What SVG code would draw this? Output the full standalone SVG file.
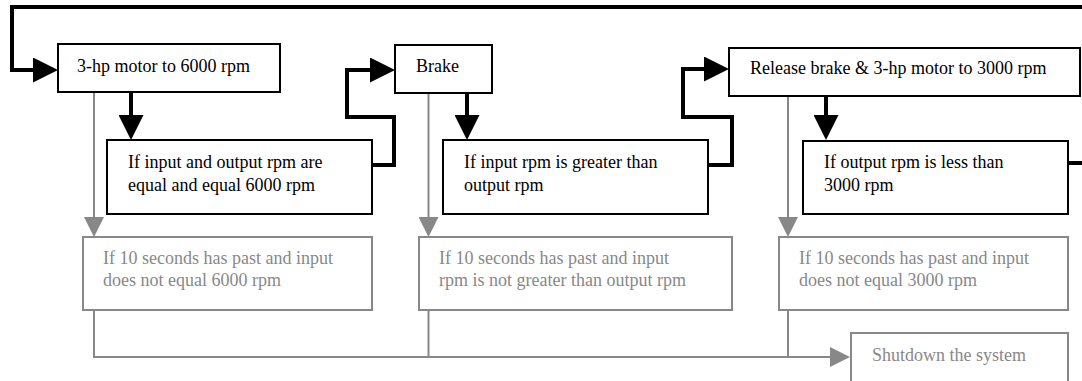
<svg xmlns="http://www.w3.org/2000/svg" width="1082" height="381" viewBox="0 0 1082 381">
  <style>
    .box { fill: #fff; stroke: #000; stroke-width: 2; }
    .gbox { fill: #fff; stroke: #888; stroke-width: 2; }
    .t { font-family: "Liberation Serif", "Times New Roman", serif; font-size: 18px; fill: #000; }
    .gt { font-family: "Liberation Serif", "Times New Roman", serif; font-size: 18px; fill: #888; }
    .bl { fill: none; stroke: #000; stroke-width: 4; marker-end: url(#ab); }
    .bln { fill: none; stroke: #000; stroke-width: 4; }
    .gl { fill: none; stroke: #888; stroke-width: 2; marker-end: url(#ag); }
    .gln { fill: none; stroke: #888; stroke-width: 2; }
  </style>
  <defs>
    <marker id="ab" markerUnits="userSpaceOnUse" viewBox="0 0 25 25" markerWidth="25" markerHeight="25" refX="0" refY="12.5" orient="auto">
      <path d="M0,0 L25,12.5 L0,25 Z" fill="#000"/>
    </marker>
    <marker id="ag" markerUnits="userSpaceOnUse" viewBox="0 0 20 20" markerWidth="20" markerHeight="20" refX="0" refY="10" orient="auto">
      <path d="M0,0 L20,10 L0,20 Z" fill="#888"/>
    </marker>
  </defs>

  <g id="connectors">
    <path class="bl" d="M1082,7 H12 V70 H33"/>
    <path class="bl" d="M131,92 V115"/>
    <path class="bl" d="M467,93 V115"/>
    <path class="bl" d="M826,96 V115"/>
    <path class="bl" d="M372,165 H394 V117 H347 V70 H370"/>
    <path class="bl" d="M708,165 H732 V117 H683 V69 H704"/>
    <path class="bln" d="M1068,163 H1082"/>
    <path class="gl" d="M94,92 V217"/>
    <path class="gl" d="M428.5,93 V217"/>
    <path class="gl" d="M788,96 V217"/>
    <path class="gl" d="M94,310 V357 H830"/>
    <path class="gln" d="M428.5,310 V357"/>
    <path class="gln" d="M788,310 V357"/>
  </g>

  <g id="motor6000">
    <rect class="box" x="58" y="44" width="222" height="48"/>
    <text class="t" x="77" y="72">3-hp motor to 6000 rpm</text>
  </g>
  <g id="brake">
    <rect class="box" x="395" y="45" width="97" height="48"/>
    <text class="t" x="416" y="72">Brake</text>
  </g>
  <g id="release">
    <rect class="box" x="729" y="48" width="351" height="48"/>
    <text class="t" x="750" y="74">Release brake &amp; 3-hp motor to 3000 rpm</text>
  </g>
  <g id="check6000">
    <rect class="box" x="107" y="140" width="265" height="74"/>
    <text class="t" x="128" y="168">If input and output rpm are</text>
    <text class="t" x="128" y="191">equal and equal 6000 rpm</text>
  </g>
  <g id="checkBrake">
    <rect class="box" x="443" y="140" width="265" height="74"/>
    <text class="t" x="464" y="168">If input rpm is greater than</text>
    <text class="t" x="464" y="191">output rpm</text>
  </g>
  <g id="check3000">
    <rect class="box" x="803" y="141" width="265" height="73"/>
    <text class="t" x="824" y="168">If output rpm is less than</text>
    <text class="t" x="824" y="191">3000 rpm</text>
  </g>
  <g id="timeout6000">
    <rect class="gbox" x="83" y="237" width="289" height="73"/>
    <text class="gt" x="103" y="264">If 10 seconds has past and input</text>
    <text class="gt" x="103" y="286">does not equal 6000 rpm</text>
  </g>
  <g id="timeoutBrake">
    <rect class="gbox" x="419" y="237" width="313" height="73"/>
    <text class="gt" x="439" y="264">If 10 seconds has past and input</text>
    <text class="gt" x="439" y="286">rpm is not greater than output rpm</text>
  </g>
  <g id="timeout3000">
    <rect class="gbox" x="779" y="237" width="289" height="73"/>
    <text class="gt" x="799" y="264">If 10 seconds has past and input</text>
    <text class="gt" x="799" y="286">does not equal 3000 rpm</text>
  </g>
  <g id="shutdown">
    <rect class="gbox" x="851" y="333" width="217" height="60"/>
    <text class="gt" x="872" y="361">Shutdown the system</text>
  </g>
</svg>
